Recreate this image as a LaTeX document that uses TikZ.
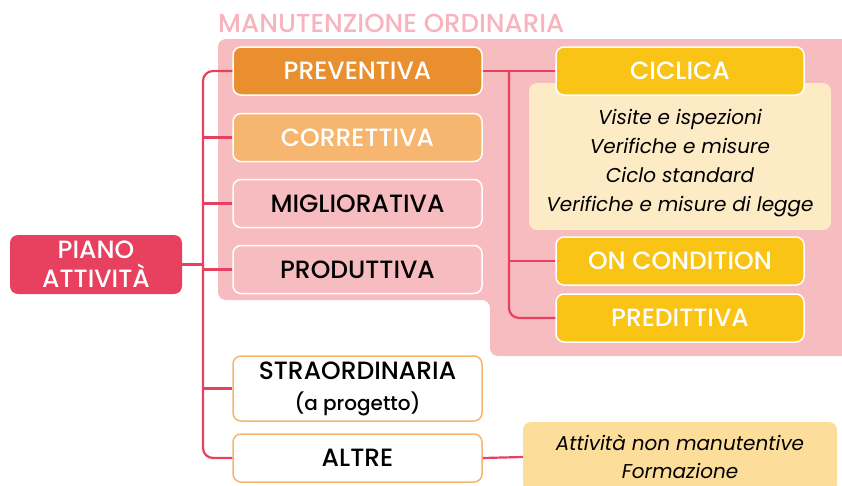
\documentclass[tikz,border=0pt]{standalone}
\usepackage{fontspec}
\setmainfont{Poppins}[BoldFont={* Medium}]
\usepackage{tikz}
\usetikzlibrary{positioning}
\definecolor{pianored}{HTML}{E8405F}
\definecolor{prevorange}{HTML}{EA8F2E}
\definecolor{corrorange}{HTML}{F6B66F}
\definecolor{ordbg}{HTML}{F7BCC0}
\definecolor{ordtitle}{HTML}{F8B4BE}
\definecolor{cicyellow}{HTML}{F9C416}
\definecolor{cicbg}{HTML}{FDEBC6}
\definecolor{altbg}{HTML}{FDDD9A}

\begin{document}
\begin{tikzpicture}[x=1pt, y=-1pt,
  box/.style={rectangle, rounded corners=8pt, draw=white, line width=1.5pt,
               minimum width=249pt, minimum height=48pt, align=center,
               font=\fontsize{25}{29}\selectfont\bfseries},
  wbox/.style={box, fill=white, draw=corrorange},
  ybox/.style={box, fill=cicyellow, text=white, minimum width=248pt},
  note/.style={rectangle, rounded corners=8pt, align=center,
               font=\fontsize{20}{29}\selectfont\itshape},
  link/.style={draw=pianored, line width=2.2pt}
]
  \useasboundingbox (0,0) rectangle (842,485);

  % area manutenzione ordinaria
  \fill[ordbg, rounded corners=8pt] (218,39) -- (860,39) -- (860,356) -- (490,356)
    -- (490,300) -- (218,300) -- cycle;
  \node[anchor=south west, inner sep=0pt, text=ordtitle,
        font=\fontsize{26}{30}\selectfont\bfseries] (title) at (218,33) {MANUTENZIONE ORDINARIA};

  \node[rectangle, rounded corners=8pt, fill=pianored, text=white, minimum width=172pt,
        minimum height=59pt, align=center, font=\fontsize{25}{29}\selectfont\bfseries]
        (piano) at (96,264.5) {PIANO\\ATTIVITÀ};

  \node[box, fill=prevorange, text=white] (prev) at (357.5,71) {PREVENTIVA};
  \node[box, fill=corrorange, text=white] (corr) at (357.5,137.5) {CORRETTIVA};
  \node[box, fill=ordbg] (migl) at (357.5,203.5) {MIGLIORATIVA};
  \node[box, fill=ordbg] (prod) at (357.5,269.5) {PRODUTTIVA};
  \node[wbox, minimum height=65pt] (stra) at (357.5,388.5)
        {STRAORDINARIA\\[2pt]{\fontsize{20}{24}\selectfont (a progetto)}};
  \node[wbox] (altre) at (357.5,458) {ALTRE};

  \node[note, fill=cicbg, minimum width=302pt, minimum height=147pt] (cicnote) at (680,156.5)
        {\\[0pt]Visite e ispezioni\\Verifiche e misure\\Ciclo standard\\Verifiche e misure di legge};
  \node[ybox] (cicl) at (680,71) {CICLICA};
  \node[ybox] (oncond) at (680,261) {ON CONDITION};
  \node[ybox] (pred) at (680,318) {PREDITTIVA};

  \node[note, fill=altbg, minimum width=314pt, minimum height=70pt, font=\fontsize{20}{28}\selectfont\itshape]
        (other) at (680,457) {Attività non manutentive\\Formazione};

  % collegamenti
  \coordinate (trunk) at (203,0);
  \coordinate (sub) at (509,0);
  \draw[link, rounded corners=10pt] (prev.west) -- (trunk |- prev.west) -- (trunk |- altre.west) -- (altre.west);
  \draw[link] (piano.east) -- (trunk |- piano.east);
  \draw[link] (trunk |- corr.west) -- (corr.west);
  \draw[link] (trunk |- migl.west) -- (migl.west);
  \draw[link] (trunk |- prod.west) -- (prod.west);
  \draw[link] (trunk |- stra.west) -- (stra.west);
  \draw[link] (prev.east) -- (cicl.west);
  \draw[link, rounded corners=10pt] (sub |- prev.east) -- (sub |- pred.west) -- (pred.west);
  \draw[link] (sub |- oncond.west) -- (oncond.west);
  \draw[link] (altre.east) -- (other.west);
\end{tikzpicture}
\end{document}
